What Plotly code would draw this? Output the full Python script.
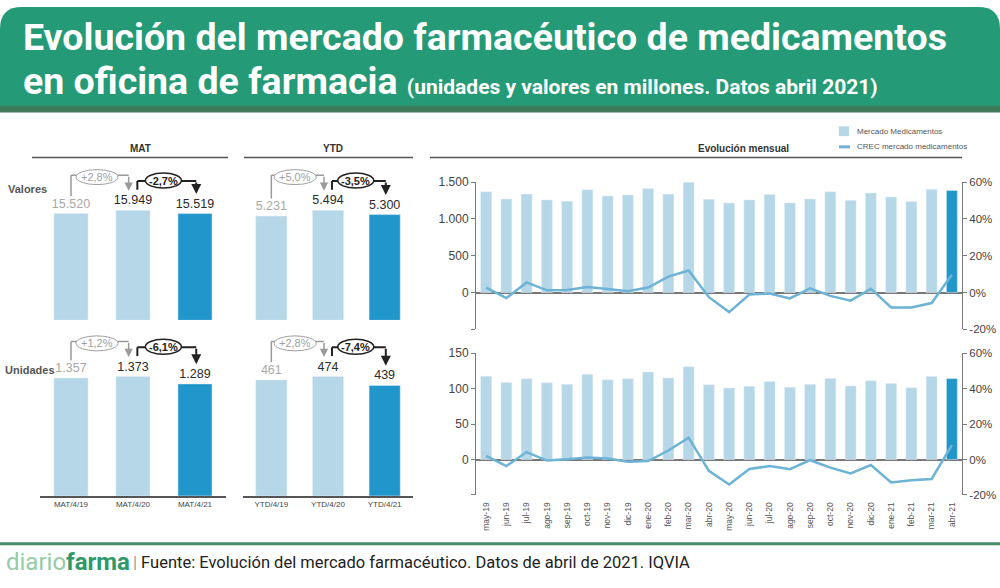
import plotly.graph_objects as go

W, H = 1000, 588
def X(px): return px / W
def Y(py): return 1 - py / H

# ---------------- data ----------------
months = ["may-19", "jun-19", "jul-19", "ago-19", "sep-19", "oct-19", "nov-19", "dic-19",
          "ene-20", "feb-20", "mar-20", "abr-20", "may-20", "jun-20", "jul-20", "ago-20",
          "sep-20", "oct-20", "nov-20", "dic-20", "ene-21", "feb-21", "mar-21", "abr-21"]
valores_mes = [1367, 1270, 1336, 1257, 1239, 1394, 1310, 1323, 1412, 1336, 1498, 1265,
               1217, 1257, 1332, 1217, 1270, 1367, 1252, 1350, 1296, 1235, 1403, 1385]
crec_valores = [2.7, -3.0, 5.5, 1.2, 1.4, 3.0, 1.9, 0.7, 2.7, 8.7, 12.0, -2.5,
                -10.6, -1.1, -0.5, -3.2, 2.3, -1.8, -4.4, 2.1, -8.1, -8.1, -5.7, 9.7]
unidades_mes = [117.4, 108.7, 113.8, 108.3, 106.0, 120.2, 112.4, 113.8, 123.4, 115.1, 130.7, 105.5,
                100.9, 103.2, 110.1, 101.8, 106.0, 114.2, 103.7, 111.0, 107.3, 101.4, 117.0, 114.2]
crec_unidades = [2.0, -3.7, 4.2, -0.6, 0.2, 1.1, 0.6, -1.3, -0.9, 5.1, 12.3, -6.4,
                 -14.1, -5.3, -3.7, -5.5, -0.4, -4.6, -7.9, -3.1, -13.0, -11.7, -11.0, 8.1]

mat_cats = ["MAT/4/19", "MAT/4/20", "MAT/4/21"]
ytd_cats = ["YTD/4/19", "YTD/4/20", "YTD/4/21"]
mat_valores = [15520, 15949, 15519]
ytd_valores = [5231, 5494, 5300]
mat_unidades = [1357, 1373, 1289]
ytd_unidades = [461, 474, 439]
mat_valores_pct = ["+2,8%", "-2,7%"]
ytd_valores_pct = ["+5,0%", "-3,5%"]
mat_unidades_pct = ["+1,2%", "-6,1%"]
ytd_unidades_pct = ["+2,8%", "-7,4%"]

left_ticks = [-500, 0, 500, 1000, 1500]
left_ticktext = ["", "0", "500", "1.000", "1.500"]
left_ticks_u = [-50, 0, 50, 100, 150]
left_ticktext_u = ["", "0", "50", "100", "150"]
pct_ticks = [-20, 0, 20, 40, 60]
pct_ticktext = ["-20%", "0%", "20%", "40%", "60%"]

# ---------------- styles ----------------
LIGHT = "#b5d7e8"
DARK = "#2196cb"
LINE = "#6cb3d6"
AX = "#7a7a7a"
GREEN = "#249b76"
GREEN_DARK = "#3e7b5a"
TICKF = "Liberation Sans, Arial, sans-serif"
TITLEF = "Roboto, Open Sans, sans-serif"

def bar_colors(n):
    return [LIGHT] * (n - 1) + [DARK]

fig = go.Figure()

# monthly charts
fig.add_trace(go.Bar(x=months, y=valores_mes, marker=dict(color=bar_colors(len(months))),
                     width=0.54, name="Mercado Medicamentos", xaxis="x", yaxis="y",
                     showlegend=False))
fig.add_trace(go.Scatter(x=months, y=crec_valores, mode="lines", line=dict(color=LINE, width=2.5),
                         name="CREC mercado medicamentos", xaxis="x", yaxis="y2", showlegend=False))
fig.add_trace(go.Bar(x=months, y=unidades_mes, marker=dict(color=bar_colors(len(months))),
                     width=0.54, name="Mercado Medicamentos", xaxis="x2", yaxis="y3",
                     showlegend=False))
fig.add_trace(go.Scatter(x=months, y=crec_unidades, mode="lines", line=dict(color=LINE, width=2.5),
                         name="CREC mercado medicamentos", xaxis="x2", yaxis="y4", showlegend=False))

# left panels
panels = [
    ("x3", "y5", mat_cats, mat_valores, mat_valores_pct),
    ("x4", "y6", ytd_cats, ytd_valores, ytd_valores_pct),
    ("x5", "y7", mat_cats, mat_unidades, mat_unidades_pct),
    ("x6", "y8", ytd_cats, ytd_unidades, ytd_unidades_pct),
]
PANEL_H = 180.0
RANGE_K = 1.475
shapes = []
annotations = []

for xr, yr, cats, vals, pcts in panels:
    fig.add_trace(go.Bar(
        x=cats, y=vals, marker=dict(color=bar_colors(3)), width=0.55,
        xaxis=xr, yaxis=yr, showlegend=False,
        texttemplate="%{y:,.0f}", textposition="outside", constraintext="none",
        textfont=dict(family=TICKF, size=12.5, color=["#a8a8a8", "#2a2a2a", "#2a2a2a"]),
        cliponaxis=False))
    R = max(vals) * RANGE_K
    upp = R / PANEL_H
    v0, v1, v2 = vals
    # grey bracket
    g_bot, g_top, g_tip = v0 + 18 * upp, v1 + 36 * upp, v1 + 20 * upp
    gx = 1 - 0.07
    shapes.append(dict(type="line", xref=xr, yref=yr, x0=0, x1=0, y0=g_bot, y1=g_top,
                       line=dict(color="#9a9a9a", width=1.5)))
    shapes.append(dict(type="line", xref=xr, yref=yr, x0=0, x1=gx, y0=g_top, y1=g_top,
                       line=dict(color="#9a9a9a", width=1.5)))
    annotations.append(dict(xref=xr, yref=yr, x=gx, y=g_tip, ax=gx, ay=g_top, axref=xr, ayref=yr,
                            text="", showarrow=True, arrowhead=2, arrowsize=1.1, arrowwidth=1.5,
                            arrowcolor="#9a9a9a", standoff=0))
    shapes.append(dict(type="circle", xref=xr, yref=yr, xsizemode="pixel", ysizemode="pixel",
                       xanchor=0.42, yanchor=v1 + 34 * upp, x0=-21, x1=21, y0=-7.5, y1=7.5,
                       fillcolor="white", line=dict(color="#a0a0a0", width=1)))
    annotations.append(dict(xref=xr, yref=yr, x=0.42, y=v1 + 34 * upp, text=pcts[0],
                            xanchor="center", yanchor="middle",
                            showarrow=False, font=dict(family=TICKF, size=11, color="#a0a0a0")))
    # dark bracket
    d_bot, d_top, d_tip = v1 + 21 * upp, v1 + 30 * upp, v2 + 20 * upp
    dx0, dx1 = 1.07, 2.02
    shapes.append(dict(type="line", xref=xr, yref=yr, x0=dx0, x1=dx0, y0=d_bot, y1=d_top,
                       line=dict(color="#222", width=2)))
    shapes.append(dict(type="line", xref=xr, yref=yr, x0=dx0, x1=dx1, y0=d_top, y1=d_top,
                       line=dict(color="#222", width=2)))
    annotations.append(dict(xref=xr, yref=yr, x=dx1, y=d_tip, ax=dx1, ay=d_top, axref=xr, ayref=yr,
                            text="", showarrow=True, arrowhead=2, arrowsize=1, arrowwidth=2,
                            arrowcolor="#222", standoff=0))
    shapes.append(dict(type="circle", xref=xr, yref=yr, xsizemode="pixel", ysizemode="pixel",
                       xanchor=1.49, yanchor=v1 + 30.5 * upp, x0=-18, x1=18, y0=-7.5, y1=7.5,
                       fillcolor="white", line=dict(color="#222", width=1.5)))
    annotations.append(dict(xref=xr, yref=yr, x=1.49, y=v1 + 30.5 * upp, text="<b>" + pcts[1] + "</b>",
                            xanchor="center", yanchor="middle",
                            showarrow=False, font=dict(family=TICKF, size=11, color="#222")))

# ---------------- decorations ----------------
# header
shapes.append(dict(type="path", xref="paper", yref="paper", layer="below",
                   path=f"M 0,{Y(102)} L 0,{Y(22)} Q 0,{Y(0)} {X(22)},{Y(0)} L {X(978)},{Y(0)} "
                        f"Q 1,{Y(0)} 1,{Y(22)} L 1,{Y(102)} Z",
                   fillcolor=GREEN, line=dict(width=0)))
shapes.append(dict(type="rect", xref="paper", yref="paper", layer="below",
                   x0=0, x1=1, y0=Y(108), y1=Y(101), fillcolor=GREEN_DARK, line=dict(width=0)))
# footer line
shapes.append(dict(type="line", xref="paper", yref="paper", x0=0, x1=1, y0=Y(549), y1=Y(549),
                   line=dict(color="#4a8c66", width=3)))
# section underlines
for x0, x1 in [(32, 228), (244, 413), (430, 962)]:
    shapes.append(dict(type="line", xref="paper", yref="paper", x0=X(x0), x1=X(x1),
                       y0=Y(154), y1=Y(154), line=dict(color="#555", width=1.5)))
# manual legend
shapes.append(dict(type="rect", xref="paper", yref="paper", x0=X(839), x1=X(849),
                   y0=Y(132), y1=Y(122), fillcolor=LIGHT, line=dict(width=0)))
shapes.append(dict(type="line", xref="paper", yref="paper", x0=X(839), x1=X(850),
                   y0=Y(143), y1=Y(143), line=dict(color=LINE, width=3)))

def ptext(x, y, text, font, xanchor="center", yanchor="middle"):
    return dict(xref="paper", yref="paper", x=X(x), y=Y(y), xanchor=xanchor, yanchor=yanchor,
                text=text, showarrow=False, font=font)

annotations += [
    ptext(855, 127, "Mercado Medicamentos", dict(family=TICKF, size=8, color="#555"), "left"),
    ptext(855, 143, "CREC mercado medicamentos", dict(family=TICKF, size=8, color="#555"), "left"),
    ptext(21, 31, "<b>Evolución del mercado farmacéutico de medicamentos</b>",
          dict(family=TITLEF, size=37.5, color="white"), "left"),
    ptext(21, 76, "<b>en oficina de farmacia</b> <b><span style='font-size:21px'>(unidades y valores en millones. Datos abril 2021)</span></b>",
          dict(family=TITLEF, size=37.5, color="white"), "left"),
    ptext(140, 145, "<b>MAT</b>", dict(family=TICKF, size=10, color="#333")),
    ptext(333, 145, "<b>YTD</b>", dict(family=TICKF, size=10, color="#333")),
    ptext(743, 145, "<b>Evolución mensual</b>", dict(family=TICKF, size=10, color="#333")),
    ptext(6, 186, "<b>Valores</b>", dict(family=TICKF, size=11, color="#555"), "left"),
    ptext(3, 371, "<b>Unidades</b>", dict(family=TICKF, size=11, color="#555"), "left"),
    ptext(4, 568, "<span style='color:#94cba8'>diario</span><b><span style='color:#2e9a6c'>farma</span></b>",
          dict(family=TITLEF, size=24), "left"),
    ptext(131, 568, "<span style='color:#999'>|</span> Fuente: Evolución del mercado farmacéutico. Datos de abril de 2021. IQVIA",
          dict(family=TITLEF, size=16.5, color="#222"), "left"),
]

# ---------------- axes ----------------
def left_y(domain, rng, tv, tt):
    return dict(domain=domain, range=rng, tickvals=tv, ticktext=tt, showline=True, linecolor=AX,
                linewidth=1, ticks="outside", ticklen=4, tickcolor=AX, showgrid=False,
                zeroline=True, zerolinecolor="#777", zerolinewidth=1.5,
                tickfont=dict(family=TICKF, size=12, color="#444"), fixedrange=True)

def right_y(overlay, anchor, rng):
    return dict(overlaying=overlay, anchor=anchor, side="right", range=rng, tickvals=pct_ticks,
                ticktext=pct_ticktext, showline=True, linecolor=AX, linewidth=1, ticks="outside",
                ticklen=4, tickcolor=AX, showgrid=False, zeroline=False,
                tickfont=dict(family=TICKF, size=11.5, color="#444"))

MX = [X(476), X(962)]
layout = dict(
    width=W, height=H, margin=dict(l=0, r=0, t=0, b=0),
    paper_bgcolor="white", plot_bgcolor="white", separators=",.",
    showlegend=False, shapes=shapes, annotations=annotations,
    xaxis=dict(domain=MX, anchor="y", range=[-0.5, 23.5], showticklabels=False, ticks="",
               showgrid=False, showline=False, zeroline=False),
    yaxis=dict(anchor="x", **left_y([Y(329.7), Y(179)], [-500, 1500], left_ticks, left_ticktext)),
    yaxis2=right_y("y", "x", [-20, 60]),
    xaxis2=dict(domain=MX, anchor="y3", range=[-0.5, 23.5], tickangle=-90, ticks="outside",
                ticklen=3, tickcolor="rgba(0,0,0,0)",
                showgrid=False, showline=False, zeroline=False,
                tickfont=dict(family=TICKF, size=8.5, color="#555")),
    yaxis3=dict(anchor="x2", **left_y([Y(499), Y(354)], [-50, 150], left_ticks_u, left_ticktext_u)),
    yaxis4=right_y("y3", "x2", [-20, 60]),
)

pan_dom_x = {"x3": [X(40), X(226)], "x4": [X(243), X(413)], "x5": [X(40), X(226)], "x6": [X(243), X(413)]}
pan_dom_y = {"y5": [Y(330), Y(150)], "y6": [Y(330), Y(150)], "y7": [Y(500), Y(320)], "y8": [Y(500), Y(320)]}
for xr, yr, cats, vals, pcts in panels:
    xn = "xaxis" + xr[1:]
    yn = "yaxis" + yr[1:]
    show_lbl = yr in ("y7", "y8")
    layout[xn] = dict(domain=pan_dom_x[xr], anchor=yr, range=[-0.5, 2.5], showline=True,
                      linecolor="#555", linewidth=1.5, ticks="", showgrid=False, zeroline=False,
                      showticklabels=show_lbl, tickfont=dict(family=TICKF, size=8, color="#444"))
    layout[yn] = dict(domain=pan_dom_y[yr], anchor=xr, range=[0, max(vals) * RANGE_K], visible=False)

fig.update_layout(**layout)
fig.write_html("out.html", config={"displayModeBar": False},
               post_script="document.body.style.margin='0';document.body.style.overflow='hidden';")
